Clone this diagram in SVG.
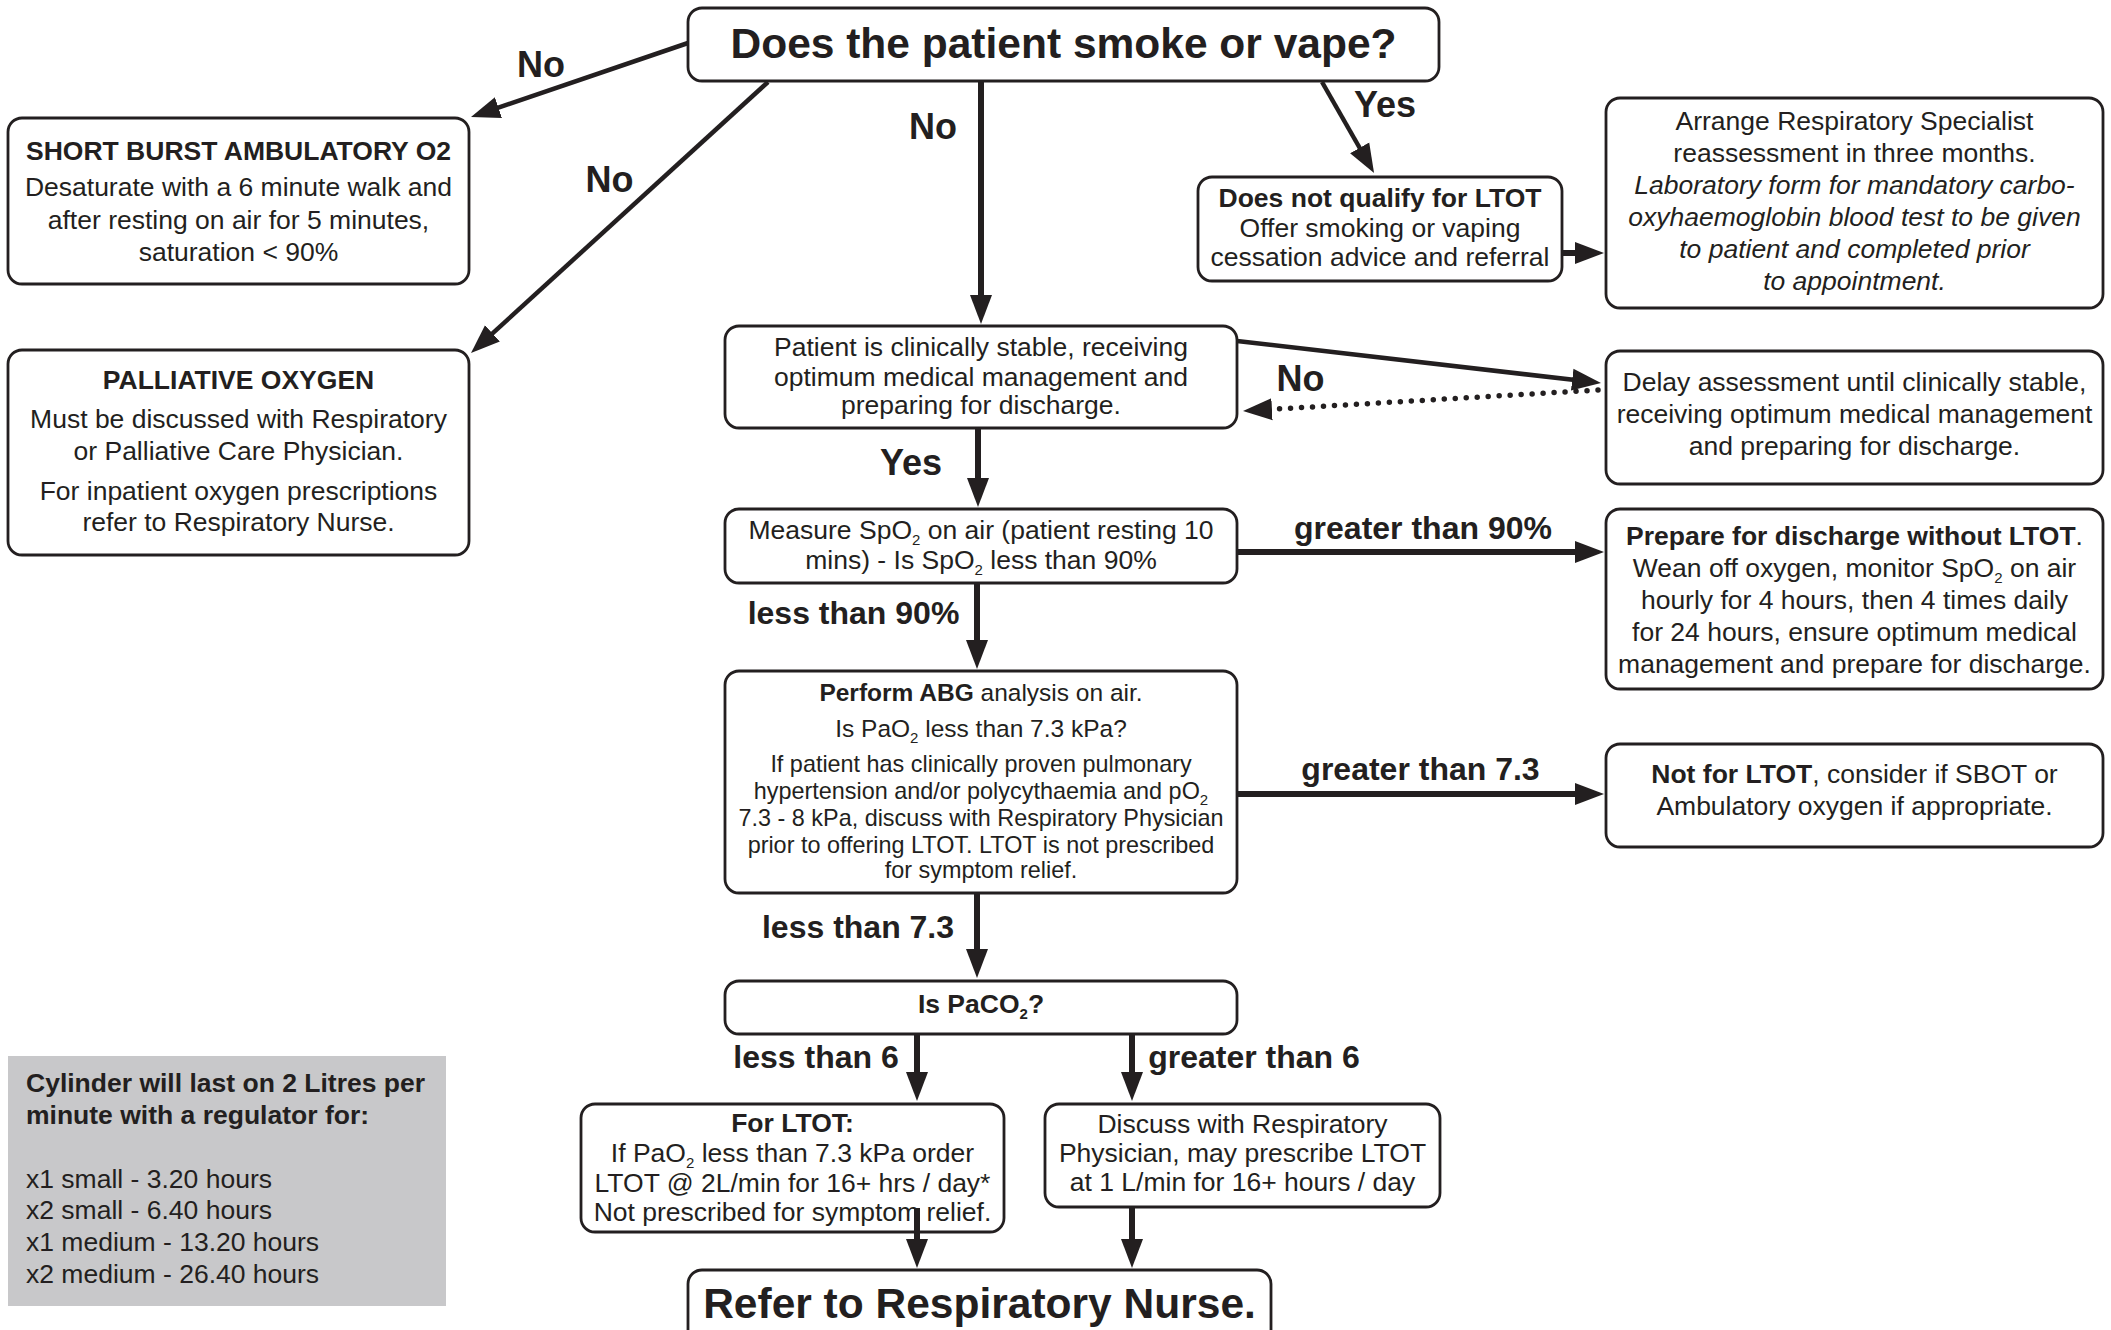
<svg xmlns="http://www.w3.org/2000/svg" width="2111" height="1330" viewBox="0 0 2111 1330">
<defs>
<style>
.box{fill:#fff;stroke:#231f20;stroke-width:2.8}
text{font-family:"Liberation Sans",Arial,Helvetica,sans-serif;fill:#231f20}
.t{font-size:26.5px;text-anchor:middle}
.s{font-size:23.4px;text-anchor:middle}
.m{font-size:24.5px;text-anchor:middle}
.b{font-weight:bold}
.i{font-style:italic}
.lbl{font-size:32px;font-weight:bold;text-anchor:middle}
.yn{font-size:36px;font-weight:bold;text-anchor:middle}
.title{font-size:42.5px;font-weight:bold;text-anchor:middle}
.sub{font-size:15px}
.c{stroke:#231f20;fill:none;stroke-width:6;marker-end:url(#ah)}
.d{stroke-width:4.5}
.dot{stroke-dasharray:0 11;stroke-linecap:round;stroke-width:5.5}
</style>
<marker id="ah" markerUnits="userSpaceOnUse" markerWidth="30" markerHeight="24" viewBox="0 0 30 24" refX="14" refY="12" orient="auto">
<path d="M0,1 L29,12 L0,23 z" fill="#231f20"/>
</marker>
</defs>
<rect x="0" y="0" width="2111" height="1330" fill="#fff"/>

<g id="n-smoke">
<rect class="box" x="688" y="8" width="751" height="73" rx="14"/>
<text class="title" x="1063.5" y="58">Does the patient smoke or vape?</text>
</g>

<g id="n-short-burst">
<rect class="box" x="8" y="118" width="461" height="166" rx="14"/>
<text class="t b" x="238.5" y="160">SHORT BURST AMBULATORY O2</text>
<text class="t" x="238.5" y="196">Desaturate with a 6 minute walk and</text>
<text class="t" x="238.5" y="229">after resting on air for 5 minutes,</text>
<text class="t" x="238.5" y="261">saturation &lt; 90%</text>
</g>

<g id="n-palliative">
<rect class="box" x="8" y="350" width="461" height="205" rx="14"/>
<text class="t b" x="238.5" y="389">PALLIATIVE OXYGEN</text>
<text class="t" x="238.5" y="428">Must be discussed with Respiratory</text>
<text class="t" x="238.5" y="459.5">or Palliative Care Physician.</text>
<text class="t" x="238.5" y="499.5">For inpatient oxygen prescriptions</text>
<text class="t" x="238.5" y="531">refer to Respiratory Nurse.</text>
</g>

<g id="n-not-qualify">
<rect class="box" x="1198" y="177" width="364" height="104" rx="14"/>
<text class="t b" x="1380" y="207">Does not qualify for LTOT</text>
<text class="t" x="1380" y="237">Offer smoking or vaping</text>
<text class="t" x="1380" y="266">cessation advice and referral</text>
</g>

<g id="n-arrange">
<rect class="box" x="1606" y="98" width="497" height="210" rx="14"/>
<text class="t" x="1854.5" y="130">Arrange Respiratory Specialist</text>
<text class="t" x="1854.5" y="162">reassessment in three months.</text>
<text class="t i" x="1854.5" y="194">Laboratory form for mandatory carbo-</text>
<text class="t i" x="1854.5" y="226">oxyhaemoglobin blood test to be given</text>
<text class="t i" x="1854.5" y="258">to patient and completed prior</text>
<text class="t i" x="1854.5" y="290">to appointment.</text>
</g>

<g id="n-stable">
<rect class="box" x="725" y="326" width="512" height="102" rx="14"/>
<text class="t" x="981" y="356">Patient is clinically stable, receiving</text>
<text class="t" x="981" y="385.5">optimum medical management and</text>
<text class="t" x="981" y="414">preparing for discharge.</text>
</g>

<g id="n-delay">
<rect class="box" x="1606" y="351" width="497" height="133" rx="14"/>
<text class="t" x="1854.5" y="391">Delay assessment until clinically stable,</text>
<text class="t" x="1854.5" y="423">receiving optimum medical management</text>
<text class="t" x="1854.5" y="455">and preparing for discharge.</text>
</g>

<g id="n-measure">
<rect class="box" x="725" y="509" width="512" height="74" rx="14"/>
<text class="t" x="981" y="539">Measure SpO<tspan class="sub" dy="6">2</tspan><tspan dy="-6"> on air (patient resting 10</tspan></text>
<text class="t" x="981" y="569">mins) - Is SpO<tspan class="sub" dy="6">2</tspan><tspan dy="-6"> less than 90%</tspan></text>
</g>

<g id="n-prepare">
<rect class="box" x="1606" y="509" width="497" height="180" rx="14"/>
<text class="t" x="1854.5" y="545"><tspan class="b">Prepare for discharge without LTOT</tspan>.</text>
<text class="t" x="1854.5" y="577">Wean off oxygen, monitor SpO<tspan class="sub" dy="6">2</tspan><tspan dy="-6"> on air</tspan></text>
<text class="t" x="1854.5" y="609">hourly for 4 hours, then 4 times daily</text>
<text class="t" x="1854.5" y="641">for 24 hours, ensure optimum medical</text>
<text class="t" x="1854.5" y="673">management and prepare for discharge.</text>
</g>

<g id="n-abg">
<rect class="box" x="725" y="671" width="512" height="222" rx="14"/>
<text class="m" x="981" y="701"><tspan class="b">Perform ABG</tspan> analysis on air.</text>
<text class="m" x="981" y="737">Is PaO<tspan class="sub" dy="6">2</tspan><tspan dy="-6"> less than 7.3 kPa?</tspan></text>
<text class="s" x="981" y="772">If patient has clinically proven pulmonary</text>
<text class="s" x="981" y="799">hypertension and/or polycythaemia and pO<tspan class="sub" dy="6">2</tspan></text>
<text class="s" x="981" y="826">7.3 - 8 kPa, discuss with Respiratory Physician</text>
<text class="s" x="981" y="853">prior to offering LTOT. LTOT is not prescribed</text>
<text class="s" x="981" y="878">for symptom relief.</text>
</g>

<g id="n-not-ltot">
<rect class="box" x="1606" y="744" width="497" height="103" rx="14"/>
<text class="t" x="1854.5" y="783"><tspan class="b">Not for LTOT</tspan>, consider if SBOT or</text>
<text class="t" x="1854.5" y="815">Ambulatory oxygen if appropriate.</text>
</g>

<g id="n-paco2">
<rect class="box" x="725" y="981" width="512" height="53" rx="14"/>
<text class="t b" x="981" y="1013">Is PaCO<tspan class="sub" dy="6">2</tspan><tspan dy="-6">?</tspan></text>
</g>

<g id="n-for-ltot">
<rect class="box" x="581" y="1104" width="423" height="128" rx="14"/>
<text class="t b" x="792.5" y="1132">For LTOT:</text>
<text class="t" x="792.5" y="1162">If PaO<tspan class="sub" dy="6">2</tspan><tspan dy="-6"> less than 7.3 kPa order</tspan></text>
<text class="t" x="792.5" y="1192">LTOT @ 2L/min for 16+ hrs / day*</text>
<text class="t" x="792.5" y="1221">Not prescribed for symptom relief.</text>
</g>

<g id="n-discuss">
<rect class="box" x="1045" y="1104" width="395" height="103" rx="14"/>
<text class="t" x="1242.5" y="1133">Discuss with Respiratory</text>
<text class="t" x="1242.5" y="1162">Physician, may prescribe LTOT</text>
<text class="t" x="1242.5" y="1191">at 1 L/min for 16+ hours / day</text>
</g>

<g id="n-refer">
<rect class="box" x="688" y="1270" width="583" height="85" rx="14"/>
<text class="title" x="979.5" y="1318">Refer to Respiratory Nurse.</text>
</g>

<g id="n-cylinder">
<rect x="8" y="1056" width="438" height="250" fill="#c8c8ca"/>
<text x="26" y="1092" font-size="26.5" font-weight="bold">Cylinder will last on 2 Litres per</text>
<text x="26" y="1124" font-size="26.5" font-weight="bold">minute with a regulator for:</text>
<text x="26" y="1188" font-size="26.5">x1 small - 3.20 hours</text>
<text x="26" y="1219" font-size="26.5">x2 small - 6.40 hours</text>
<text x="26" y="1251" font-size="26.5">x1 medium - 13.20 hours</text>
<text x="26" y="1283" font-size="26.5">x2 medium - 26.40 hours</text>
</g>

<g id="connectors">
<line class="c d" x1="688" y1="43" x2="485.2" y2="112.2"/>
<line class="c d" x1="768" y1="82" x2="482.1" y2="342.9"/>
<line class="c" x1="981" y1="81" x2="981" y2="309"/>
<line class="c d" x1="1322" y1="82" x2="1366.6" y2="160"/>
<line class="c" x1="1562" y1="253" x2="1589" y2="253"/>
<line class="c d" x1="1237" y1="341" x2="1586.1" y2="381.3"/>
<line class="c dot" x1="1598" y1="390" x2="1258" y2="410.1"/>
<line class="c" x1="978" y1="428" x2="978" y2="492"/>
<line class="c" x1="1237" y1="552" x2="1589" y2="552"/>
<line class="c" x1="977" y1="583" x2="977" y2="654"/>
<line class="c" x1="1237" y1="794" x2="1589" y2="794"/>
<line class="c" x1="977" y1="893" x2="977" y2="963"/>
<line class="c" x1="917" y1="1034" x2="917" y2="1086"/>
<line class="c" x1="1132" y1="1034" x2="1132" y2="1086"/>
<line class="c" x1="917" y1="1208" x2="917" y2="1253"/>
<line class="c" x1="1132" y1="1207" x2="1132" y2="1253"/>
<text class="yn" x="541" y="77">No</text>
<text class="yn" x="609.5" y="192">No</text>
<text class="yn" x="933" y="139">No</text>
<text class="yn" x="1385" y="117">Yes</text>
<text class="yn" x="1300.5" y="391">No</text>
<text class="yn" x="911" y="475">Yes</text>
<text class="lbl" x="1423" y="539">greater than 90%</text>
<text class="lbl" x="853.5" y="624">less than 90%</text>
<text class="lbl" x="1420.5" y="780">greater than 7.3</text>
<text class="lbl" x="858" y="938">less than 7.3</text>
<text class="lbl" x="816" y="1068">less than 6</text>
<text class="lbl" x="1254" y="1068">greater than 6</text>
</g>
</svg>
